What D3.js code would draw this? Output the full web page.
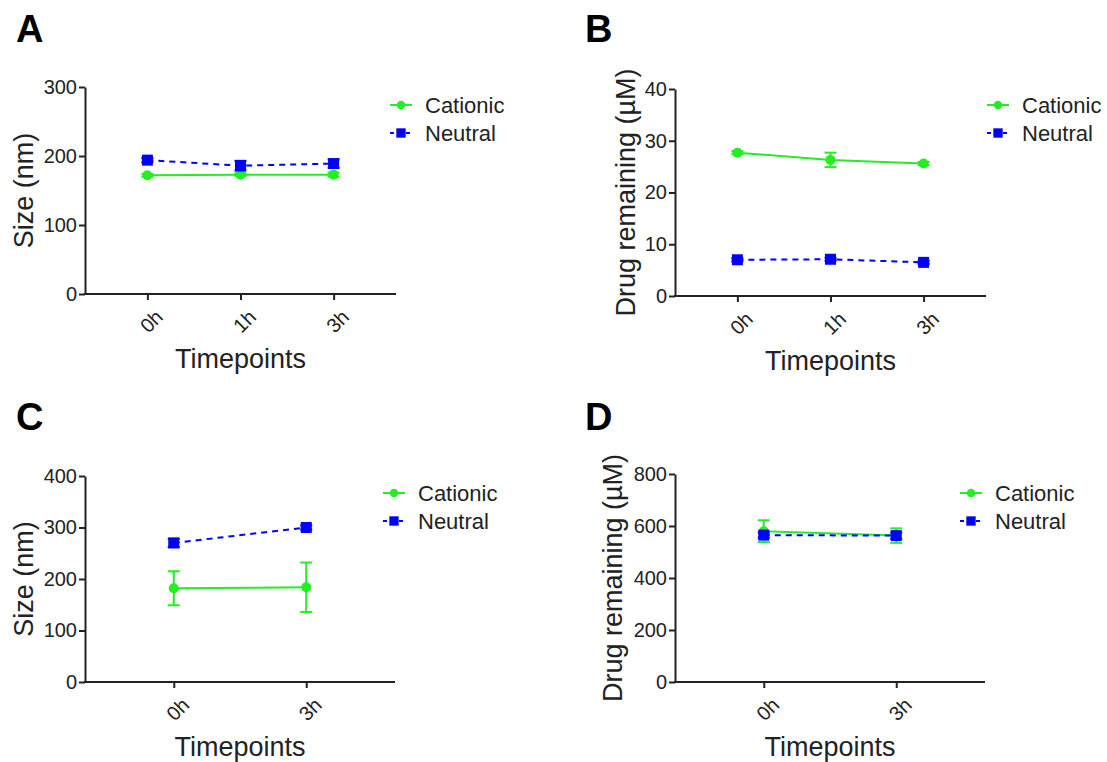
<!DOCTYPE html>
<html>
<head>
<meta charset="utf-8">
<script src="https://cdn.jsdelivr.net/npm/d3@7"></script>
<style>
  body { margin: 0; background: #fff; }
  svg { font-family: "Liberation Sans", Arial, sans-serif; }
  .axis path, .axis line { stroke: #222; stroke-width: 2; }
  .axis text { fill: #222; font-size: 20px; }
</style>
</head>
<body>
<div id="chart"></div>
<script>
// data
var timepointsAB = ["0h", "1h", "3h"];
var timepointsCD = ["0h", "3h"];
var seriesNames = ["Cationic", "Neutral"];

var sizeCationicA = [172, 173, 173];
var sizeCationicAErr = [2, 2, 3];
var sizeNeutralA = [194, 186, 189];
var sizeNeutralAErr = [3, 7, 6];

var drugCationicB = [27.7, 26.3, 25.6];
var drugCationicBErr = [0.3, 1.4, 0.3];
var drugNeutralB = [7.0, 7.1, 6.5];
var drugNeutralBErr = [0.3, 0.3, 0.3];

var sizeCationicC = [182, 184];
var sizeCationicCErr = [33, 48];
var sizeNeutralC = [270, 300];
var sizeNeutralCErr = [8, 4];

var drugCationicD = [580, 563];
var drugCationicDErr = [42, 28];
var drugNeutralD = [565, 563];
var drugNeutralDErr = [10, 12];

var green = "#22ee22", blue = "#0000ff";

var svg = d3.select("#chart").append("svg")
    .attr("width", 1107)
    .attr("height", 762);

var panels = [
    { letter: "A", lx: 16, ly: 42, left: 85, right: 396, top: 87, bottom: 294,
      yMax: 300, yStep: 100, yTitle: "Size (nm)", titleOff: 61, cats: timepointsAB,
      cat: sizeCationicA, catErr: sizeCationicAErr, neu: sizeNeutralA, neuErr: sizeNeutralAErr,
      legX: 390, legY: 105 },
    { letter: "B", lx: 585, ly: 42, left: 675, right: 986, top: 89, bottom: 296,
      yMax: 40, yStep: 10, yTitle: "Drug remaining (\u00b5M)", titleOff: 49, cats: timepointsAB,
      cat: drugCationicB, catErr: drugCationicBErr, neu: drugNeutralB, neuErr: drugNeutralBErr,
      legX: 987, legY: 105 },
    { letter: "C", lx: 16, ly: 430, left: 85, right: 395, top: 476, bottom: 682,
      yMax: 400, yStep: 100, yTitle: "Size (nm)", titleOff: 61, cats: timepointsCD,
      cat: sizeCationicC, catErr: sizeCationicCErr, neu: sizeNeutralC, neuErr: sizeNeutralCErr,
      legX: 383, legY: 493 },
    { letter: "D", lx: 585, ly: 430, left: 675, right: 985, top: 474, bottom: 682,
      yMax: 800, yStep: 200, yTitle: "Drug remaining (\u00b5M)", titleOff: 62, cats: timepointsCD,
      cat: drugCationicD, catErr: drugCationicDErr, neu: drugNeutralD, neuErr: drugNeutralDErr,
      legX: 960, legY: 493 }
];

panels.forEach(function(p) {
    var g = svg.append("g");

    var x = d3.scalePoint()
        .domain(p.cats)
        .range([p.left, p.right])
        .padding(0.67);

    var y = d3.scaleLinear()
        .domain([0, p.yMax])
        .range([p.bottom, p.top]);

    // panel letter
    g.append("text")
        .attr("x", p.lx)
        .attr("y", p.ly)
        .style("font-size", "38px")
        .style("font-weight", "bold")
        .text(p.letter);

    // axes
    g.append("g")
        .attr("class", "axis")
        .attr("transform", "translate(" + p.left + ",0)")
        .call(d3.axisLeft(y).tickValues(d3.range(0, p.yMax + 1, p.yStep)).tickSize(6).tickSizeOuter(0).tickPadding(2));

    var xAxis = g.append("g")
        .attr("class", "axis")
        .attr("transform", "translate(0," + p.bottom + ")")
        .call(d3.axisBottom(x).tickSize(6).tickSizeOuter(0));
    xAxis.select(".domain").attr("d", "M" + (p.left - 1) + ",0H" + p.right);
    xAxis.selectAll(".tick text")
        .attr("text-anchor", "end")
        .attr("dy", "0.35em")
        .attr("transform", "translate(5,13) rotate(-45)");

    // axis titles
    g.append("text")
        .attr("x", (p.left + p.right) / 2)
        .attr("y", p.bottom + 74)
        .attr("text-anchor", "middle")
        .style("font-size", "27px")
        .style("fill", "#222")
        .text("Timepoints");

    g.append("text")
        .attr("transform", "translate(" + (p.left - p.titleOff + 9) + "," + ((p.top + p.bottom) / 2) + ") rotate(-90)")
        .attr("text-anchor", "middle")
        .style("font-size", "27px")
        .style("fill", "#222")
        .text(p.yTitle);

    // series
    var series = [
        { name: seriesNames[0], vals: p.cat, errs: p.catErr, color: green, dash: null, shape: "circle" },
        { name: seriesNames[1], vals: p.neu, errs: p.neuErr, color: blue, dash: "6,5", shape: "square" }
    ];

    var line = d3.line()
        .x(function(d, i) { return x(p.cats[i]); })
        .y(function(d) { return y(d); });

    series.forEach(function(s) {
        var sg = g.append("g");

        // error bars
        s.vals.forEach(function(v, i) {
            var cx = x(p.cats[i]);
            var y0 = y(v - s.errs[i]), y1 = y(v + s.errs[i]);
            sg.append("line")
                .attr("x1", cx).attr("x2", cx)
                .attr("y1", y0).attr("y2", y1)
                .attr("stroke", s.color).attr("stroke-width", 2);
            [y0, y1].forEach(function(yy) {
                sg.append("line")
                    .attr("x1", cx - 6).attr("x2", cx + 6)
                    .attr("y1", yy).attr("y2", yy)
                    .attr("stroke", s.color).attr("stroke-width", 2);
            });
        });

        sg.append("path")
            .datum(s.vals)
            .attr("d", line)
            .attr("fill", "none")
            .attr("stroke", s.color)
            .attr("stroke-width", 2)
            .attr("stroke-dasharray", s.dash);

        s.vals.forEach(function(v, i) {
            drawMarker(sg, s.shape, x(p.cats[i]), y(v), s.color, 1);
        });
    });

    // legend
    series.forEach(function(s, i) {
        var ly = p.legY + i * 28;
        g.append("line")
            .attr("x1", p.legX).attr("x2", p.legX + 22)
            .attr("y1", ly).attr("y2", ly)
            .attr("stroke", s.color).attr("stroke-width", 2)
            .attr("stroke-dasharray", s.dash ? "4,4" : null);
        drawMarker(g, s.shape, p.legX + 11, ly, s.color, 0.85);
        g.append("text")
            .attr("x", p.legX + 35)
            .attr("y", ly + 8)
            .style("font-size", "22px")
            .style("fill", "#222")
            .text(s.name);
    });
});

function drawMarker(sel, shape, cx, cy, color, k) {
    if (shape === "circle") {
        sel.append("circle")
            .attr("cx", cx).attr("cy", cy)
            .attr("r", 5 * k)
            .attr("fill", color);
    } else {
        var h = 5.5 * k;
        sel.append("rect")
            .attr("x", cx - h).attr("y", cy - h)
            .attr("width", 2 * h).attr("height", 2 * h)
            .attr("fill", color);
    }
}
</script>
</body>
</html>
